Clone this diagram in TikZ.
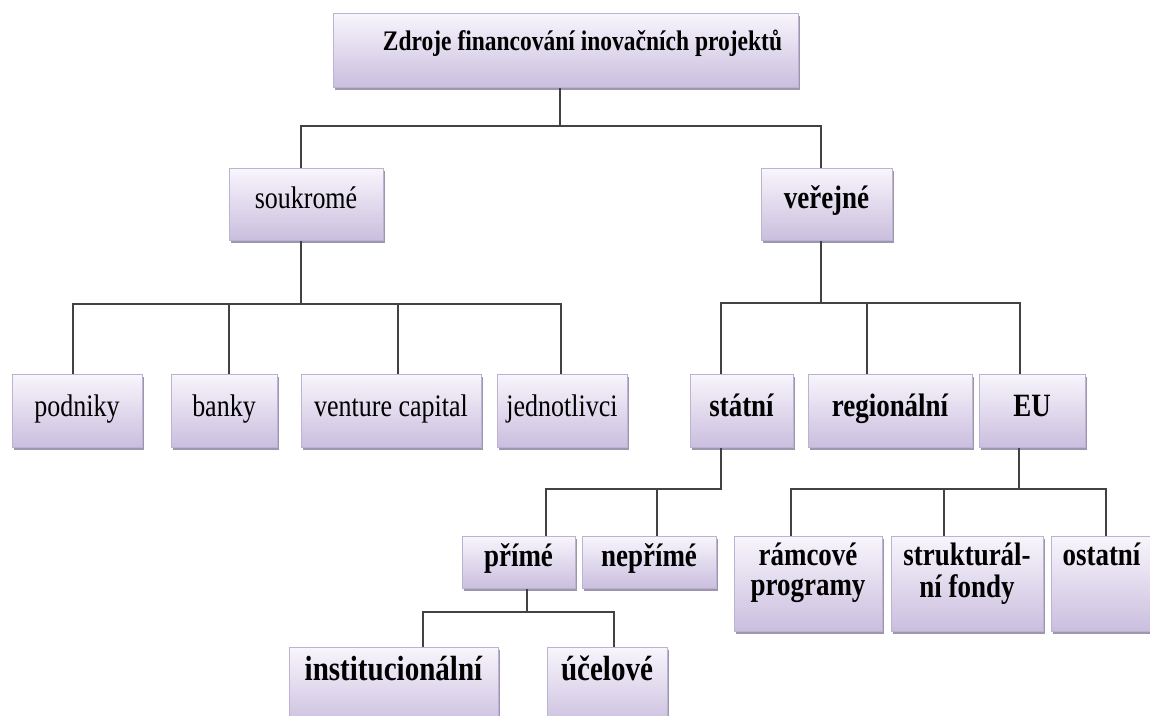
\documentclass[tikz,border=0pt]{standalone}
\usepackage{fontspec}
\setmainfont[FakeStretch=0.83]{Liberation Serif}
\usetikzlibrary{shadows}

\definecolor{boxtop}{RGB}{248,245,252}
\definecolor{boxbot}{RGB}{202,190,222}
\definecolor{boxline}{RGB}{188,178,210}
\definecolor{boxshadow}{RGB}{148,138,166}
\definecolor{wire}{RGB}{66,66,66}

\tikzset{
  box/.style={draw=boxline, line width=0.9pt, top color=boxtop, bottom color=boxbot,
    drop shadow={shadow xshift=1.5pt, shadow yshift=-2.5pt, fill=boxshadow, opacity=0.9},
    anchor=north, inner xsep=0pt, inner ysep=0pt},
  titlebox/.style={box, text height=37pt, text depth=37pt,
    font=\fontsize{28.3}{32}\selectfont\bfseries},
  midbox/.style={box, text height=40pt, text depth=32pt},
  leafbox/.style={box, text height=42pt, text depth=31pt},
  lowbox/.style={box, text height=30pt, text depth=22pt},
  tallbox/.style={box, text height=29.5pt, text depth=65.5pt},
  basebox/.style={box, text height=33pt, text depth=47pt,
    font=\fontsize{35}{38}\selectfont\bfseries},
  plain/.style={font=\fontsize{31.3}{34}\selectfont},
  heavy/.style={font=\fontsize{32.5}{30}\selectfont\bfseries},
  conn/.style={draw=wire, line width=1.2pt}
}

\begin{document}
\begin{tikzpicture}[x=1pt, y=-1pt]
\useasboundingbox (0,0) rectangle (1150,715);
\clip (0,0) rectangle (1150,715);

% ---- boxes ----
\node[titlebox, minimum width=465pt] (T) at (565.5,13) {\hspace*{34pt}Zdroje financování inovačních projektů};

\node[midbox, plain, minimum width=154pt] (S) at (306,168) {soukromé};
\node[midbox, heavy, minimum width=131pt] (V) at (826.5,168) {veřejné};

\node[leafbox, plain, minimum width=130pt] (pod) at (77,374) {podniky};
\node[leafbox, plain, minimum width=106pt] (ban) at (224,374) {banky};
\node[leafbox, plain, minimum width=180pt] (ven) at (391,374) {venture capital};
\node[leafbox, plain, minimum width=130pt] (jed) at (562,374) {jednotlivci};

\node[leafbox, heavy, minimum width=103pt] (sta) at (741.5,374) {státní};
\node[leafbox, heavy, minimum width=164pt] (reg) at (890,374) {regionální};
\node[leafbox, heavy, minimum width=106pt] (eu) at (1032,374) {EU};

\node[lowbox, heavy, minimum width=113pt] (pri) at (518.5,536) {přímé};
\node[lowbox, heavy, minimum width=134pt] (nep) at (649,536) {nepřímé};

\node[tallbox, heavy, minimum width=148pt] (ram) at (808,536)
  {\begin{tabular}[t]{@{}c@{}}rámcové\\programy\end{tabular}};
\node[tallbox, heavy, minimum width=152pt] (str) at (967,536)
  {\begin{tabular}[t]{@{}c@{}}strukturál-\\ní fondy\end{tabular}};
\node[tallbox, heavy, minimum width=101pt] (ost) at (1101.5,536) {ostatní};

\node[basebox, minimum width=209pt] (ins) at (393.5,647) {institucionální};
\node[basebox, minimum width=120pt] (uce) at (607,647) {účelové};

% ---- where the connectors run ----
\coordinate (bT) at (560,126);
\coordinate (xS) at (301,0);
\coordinate (xV) at (821,0);

\coordinate (bS) at (301,304);
\coordinate (xPod) at (73,0);
\coordinate (xBan) at (229,0);
\coordinate (xVen) at (398,0);
\coordinate (xJed) at (561,0);

\coordinate (bV) at (821,303);
\coordinate (xSta) at (721,0);
\coordinate (xReg) at (867,0);
\coordinate (xEu) at (1020,0);

\coordinate (bSta) at (721,489);
\coordinate (xPri) at (546,0);
\coordinate (xNep) at (657,0);

\coordinate (bEu) at (1019,489);
\coordinate (xRam) at (791,0);
\coordinate (xStr) at (944,0);
\coordinate (xOst) at (1106,0);

\coordinate (bPri) at (527,612);
\coordinate (xIns) at (423,0);
\coordinate (xUce) at (614,0);

% ---- connectors ----
\draw[conn] (bT |- T.south) -- (bT);
\draw[conn] (S.north -| xS) -- (xS |- bT) -- (xV |- bT) -- (V.north -| xV);

\draw[conn] (bS |- S.south) -- (bS);
\draw[conn] (pod.north -| xPod) -- (xPod |- bS) -- (xJed |- bS) -- (jed.north -| xJed);
\draw[conn] (xBan |- bS) -- (ban.north -| xBan);
\draw[conn] (xVen |- bS) -- (ven.north -| xVen);

\draw[conn] (bV |- V.south) -- (bV);
\draw[conn] (sta.north -| xSta) -- (xSta |- bV) -- (xEu |- bV) -- (eu.north -| xEu);
\draw[conn] (xReg |- bV) -- (reg.north -| xReg);

\draw[conn] (bSta |- sta.south) -- (bSta) -- (xPri |- bSta) -- (pri.north -| xPri);
\draw[conn] (xNep |- bSta) -- (nep.north -| xNep);

\draw[conn] (bEu |- eu.south) -- (bEu);
\draw[conn] (ram.north -| xRam) -- (xRam |- bEu) -- (xOst |- bEu) -- (ost.north -| xOst);
\draw[conn] (xStr |- bEu) -- (str.north -| xStr);

\draw[conn] (bPri |- pri.south) -- (bPri);
\draw[conn] (ins.north -| xIns) -- (xIns |- bPri) -- (xUce |- bPri) -- (uce.north -| xUce);
\end{tikzpicture}
\end{document}
